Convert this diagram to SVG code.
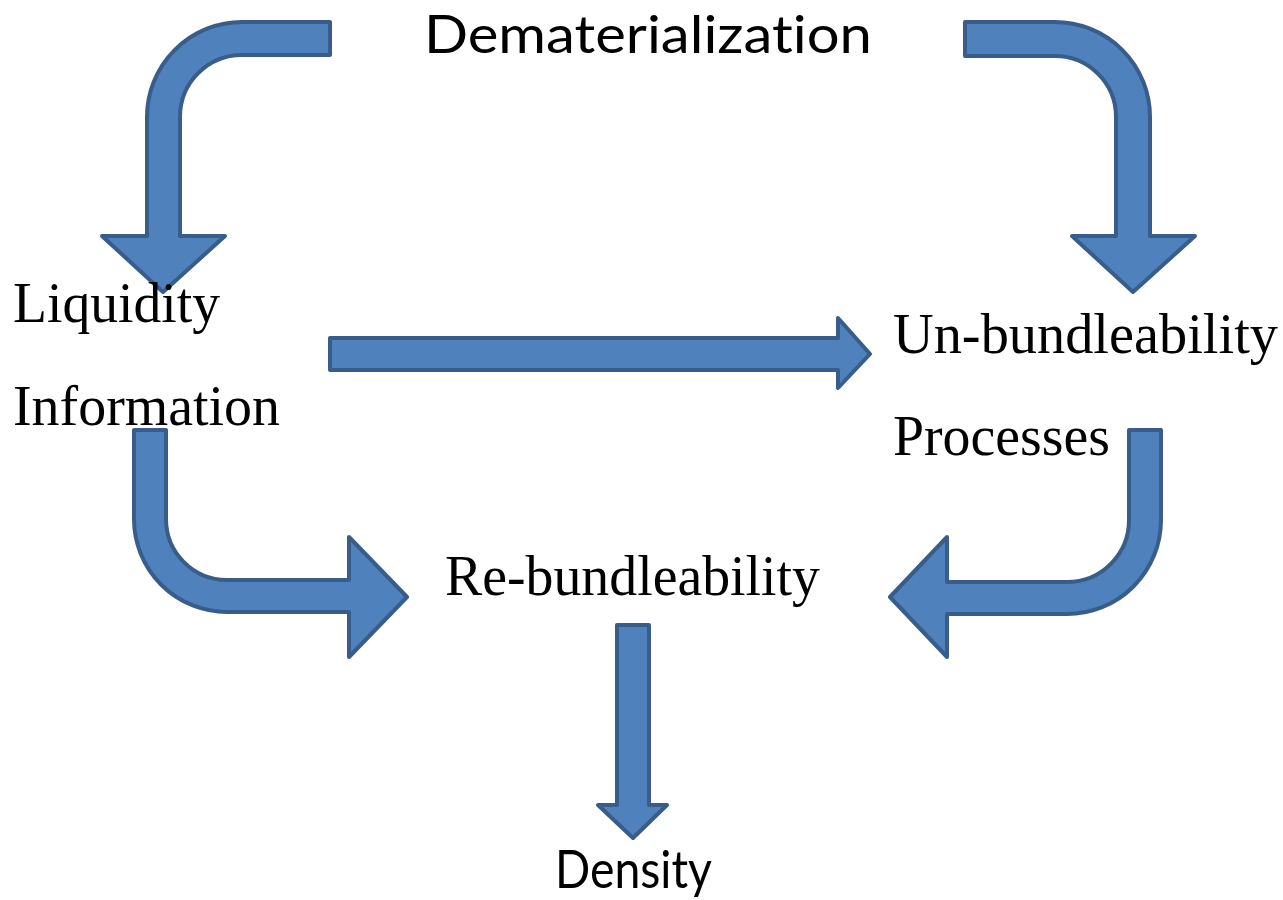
<svg xmlns="http://www.w3.org/2000/svg" width="1283" height="900" viewBox="0 0 1283 900">
  <style>
    .arrow { fill: #4F81BD; stroke: #385D8A; stroke-width: 4; stroke-linejoin: round; }
    .serif { font-family: "Liberation Serif", "Times New Roman", serif; font-size: 56px; fill: #000; }
    .sans { font-family: Lato, "Open Sans", "Liberation Sans", sans-serif; font-size: 53px; fill: #000; font-variant-ligatures: none; }
  </style>
  <rect width="1283" height="900" fill="#ffffff"/>

  <g id="connectors">
    <!-- bent arrow from the top down to Liquidity -->
    <path class="arrow" d="M330,22 L242,22 A95,95 0 0 0 147,117 L147,236 L102,236 L163,292 L225,236 L180,236 L180,117 A62,62 0 0 1 242,55 L330,55 Z"/>
    <!-- bent arrow from the top down to Un-bundleability -->
    <path class="arrow" d="M965,22 L1055,22 A95,95 0 0 1 1150,117 L1150,236 L1195,236 L1133,292 L1072,236 L1116,236 L1116,117 A61,61 0 0 0 1055,56 L965,56 Z"/>
    <!-- straight arrow Liquidity/Information to Un-bundleability -->
    <path class="arrow" d="M330,338 L838,338 L838,318 L870,354 L838,388 L838,370 L330,370 Z"/>
    <!-- bent arrow Information to Re-bundleability -->
    <path class="arrow" d="M134,430 L134,519 A93,93 0 0 0 227,612 L349,612 L349,657 L407,597 L349,537 L349,580 L227,580 A61,61 0 0 1 166,519 L166,430 Z"/>
    <!-- bent arrow Processes to Re-bundleability -->
    <path class="arrow" d="M1161,430 L1161,520 A94,94 0 0 1 1067,614 L947,614 L947,657 L890,597 L947,537 L947,582 L1067,582 A62,62 0 0 0 1129,520 L1129,430 Z"/>
    <!-- straight arrow Re-bundleability down to Density -->
    <path class="arrow" d="M617,625 L649,625 L649,805 L667,805 L633,838 L598,805 L617,805 Z"/>
  </g>

  <g id="dematerialization">
    <text class="sans" x="424" y="53" textLength="448" lengthAdjust="spacingAndGlyphs">Dematerialization</text>
  </g>
  <g id="liquidity">
    <text class="serif" x="13" y="322" textLength="207" lengthAdjust="spacingAndGlyphs">Liquidity</text>
  </g>
  <g id="information">
    <text class="serif" x="13" y="425" textLength="267" lengthAdjust="spacingAndGlyphs">Information</text>
  </g>
  <g id="unbundleability">
    <text class="serif" x="893" y="353" textLength="385" lengthAdjust="spacingAndGlyphs">Un-bundleability</text>
  </g>
  <g id="processes">
    <text class="serif" x="893" y="455" textLength="217" lengthAdjust="spacingAndGlyphs">Processes</text>
  </g>
  <g id="rebundleability">
    <text class="serif" x="445" y="595" textLength="375" lengthAdjust="spacingAndGlyphs">Re-bundleability</text>
  </g>
  <g id="density">
    <text class="sans" x="555" y="888" textLength="157" lengthAdjust="spacingAndGlyphs">Density</text>
  </g>
</svg>
